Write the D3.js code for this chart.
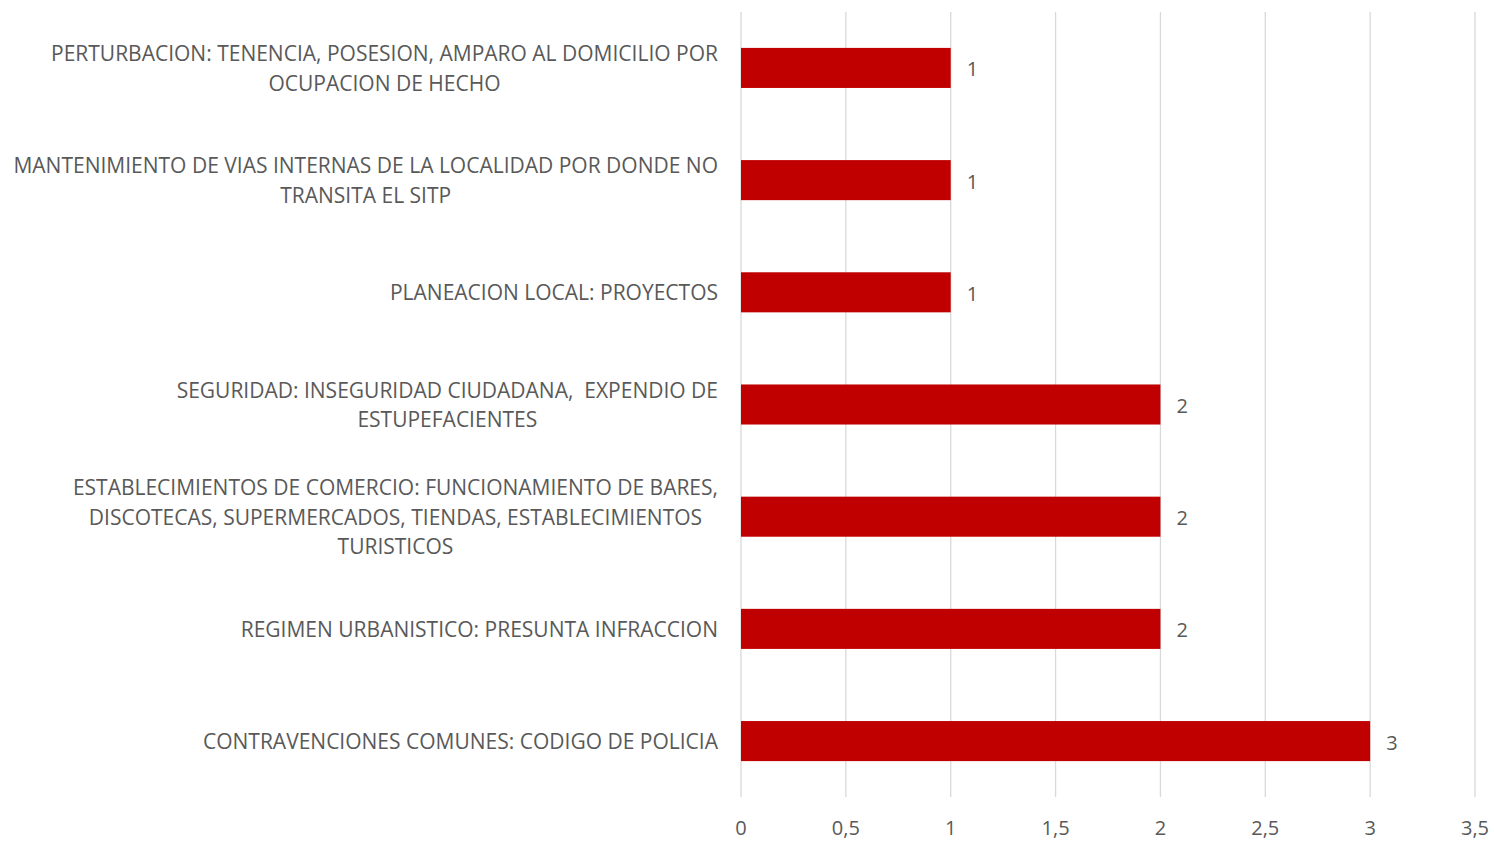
<!DOCTYPE html>
<html>
<head>
<meta charset="utf-8">
<script src="https://cdn.jsdelivr.net/npm/d3@7"></script>
<style>
  body { margin: 0; background: #fff; }
  text { font-family: "Open Sans", sans-serif; fill: #595959; white-space: pre; }
</style>
</head>
<body>
<svg width="1494" height="841"></svg>
<script>
// categories, each split into the lines shown in the chart
let categories = [
  ['PERTURBACION: TENENCIA, POSESION, AMPARO AL DOMICILIO POR', 'OCUPACION DE HECHO'],
  ['MANTENIMIENTO DE VIAS INTERNAS DE LA LOCALIDAD POR DONDE NO', 'TRANSITA EL SITP'],
  ['PLANEACION LOCAL: PROYECTOS'],
  ['SEGURIDAD: INSEGURIDAD CIUDADANA,  EXPENDIO DE', 'ESTUPEFACIENTES'],
  ['ESTABLECIMIENTOS DE COMERCIO: FUNCIONAMIENTO DE BARES,', 'DISCOTECAS, SUPERMERCADOS, TIENDAS, ESTABLECIMIENTOS', 'TURISTICOS'],
  ['REGIMEN URBANISTICO: PRESUNTA INFRACCION'],
  ['CONTRAVENCIONES COMUNES: CODIGO DE POLICIA']
]
let values = [1, 1, 1, 2, 2, 2, 3]
let ticks = [0, 0.5, 1, 1.5, 2, 2.5, 3, 3.5]

let svg = d3.select('svg')
let plotLeft = 741, plotRight = 1475, plotTop = 12, plotBottom = 797

let x = d3.scaleLinear().domain([0, 3.5]).range([plotLeft, plotRight])
let y = d3.scaleBand().domain(d3.range(categories.length)).range([plotTop, plotBottom]).paddingInner(0.643).paddingOuter(0.32)

// gridlines
svg.append('g')
  .selectAll('line')
  .data(ticks)
  .enter().append('line')
  .attr('x1', d => x(d)).attr('x2', d => x(d))
  .attr('y1', plotTop).attr('y2', plotBottom)
  .attr('stroke', '#d9d9d9')
  .attr('stroke-width', 1.3)

// tick labels
svg.append('g')
  .selectAll('text')
  .data(ticks)
  .enter().append('text')
  .attr('x', d => x(d))
  .attr('y', 827)
  .attr('text-anchor', 'middle')
  .attr('dominant-baseline', 'central')
  .style('font-size', '20px')
  .text(d => String(d).replace('.', ','))

// bars
svg.append('g')
  .selectAll('rect')
  .data(values)
  .enter().append('rect')
  .attr('x', x(0))
  .attr('y', (d, i) => y(i))
  .attr('width', d => x(d) - x(0))
  .attr('height', y.bandwidth())
  .attr('fill', '#c00000')

// value labels
svg.append('g')
  .selectAll('text')
  .data(values)
  .enter().append('text')
  .attr('x', d => x(d) + 16)
  .attr('y', (d, i) => y(i) + y.bandwidth() / 2 + 1)
  .attr('dominant-baseline', 'central')
  .style('font-size', '20px')
  .text(d => d)

// category labels: centred block whose right edge sits at 718
let lineH = 29.5
categories.forEach((lines, i) => {
  let g = svg.append('g')
  let cy = y(i) + y.bandwidth() / 2
  let t = g.selectAll('text')
    .data(lines)
    .enter().append('text')
    .attr('y', (d, j) => cy + (j - (lines.length - 1) / 2) * lineH)
    .attr('dominant-baseline', 'central')
    .attr('text-anchor', 'middle')
    .style('font-size', '21px')
    .text(d => d)
  let w = d3.max(t.nodes(), n => n.getComputedTextLength())
  t.attr('x', 718 - w / 2)
})
</script>
</body>
</html>
